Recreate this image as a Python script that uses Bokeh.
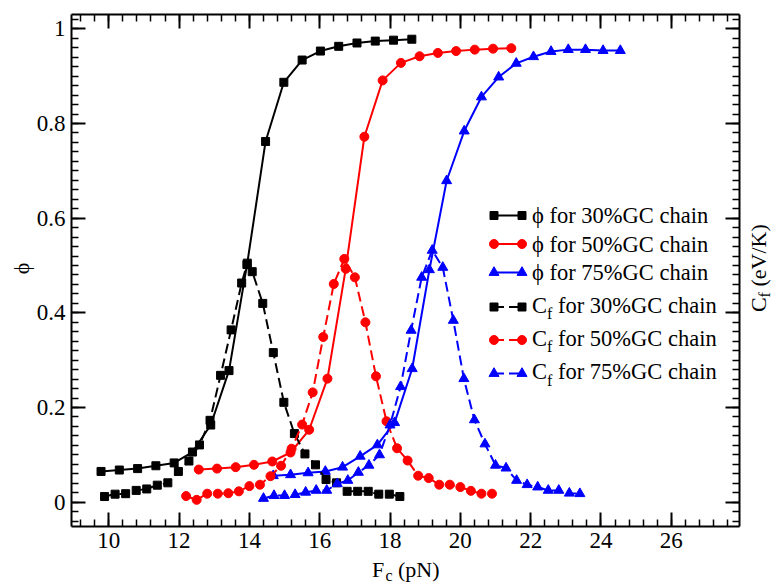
from bokeh.plotting import figure
from bokeh.models import Range1d, LinearAxis, FixedTicker, CustomJSTickFormatter, Label
from bokeh.embed import file_html
from bokeh.resources import INLINE
import math

# ---- data: order parameter phi and specific heat C_f versus force F_c ----
phi30_x = [9.78, 10.30, 10.82, 11.34, 11.86, 12.38, 12.90, 13.42, 13.94, 14.46,
           14.98, 15.50, 16.02, 16.54, 17.06, 17.58, 18.10, 18.62]
phi30_y = [0.065, 0.068, 0.071, 0.077, 0.083, 0.106, 0.163, 0.278, 0.505, 0.762,
           0.887, 0.934, 0.953, 0.963, 0.970, 0.974, 0.976, 0.978]

phi50_x = [12.56, 13.08, 13.61, 14.13, 14.65, 15.17, 15.70, 16.22, 16.74, 17.27,
           17.79, 18.31, 18.84, 19.36, 19.88, 20.41, 20.93, 21.45]
phi50_y = [0.069, 0.071, 0.074, 0.079, 0.086, 0.105, 0.153, 0.261, 0.493, 0.772,
           0.891, 0.928, 0.942, 0.949, 0.953, 0.956, 0.958, 0.959]

phi75_x = [14.68, 15.17, 15.67, 16.16, 16.65, 17.15, 17.64, 18.13, 18.63, 19.12,
           19.61, 20.11, 20.60, 21.09, 21.59, 22.08, 22.58, 23.07, 23.56, 24.06, 24.55]
phi75_y = [0.056, 0.058, 0.062, 0.065, 0.074, 0.097, 0.121, 0.168, 0.282, 0.491,
           0.679, 0.784, 0.856, 0.898, 0.927, 0.941, 0.952, 0.956, 0.956, 0.954, 0.954]

cf30_x = [9.88, 10.18, 10.48, 10.78, 11.08, 11.38, 11.68, 11.98, 12.28, 12.58,
          12.88, 13.18, 13.48, 13.78, 13.93, 14.08, 14.38, 14.68, 14.98, 15.28,
          15.58, 15.88, 16.18, 16.48, 16.78, 17.08, 17.38, 17.68, 17.98, 18.28]
cf30_y = [0.012, 0.017, 0.018, 0.025, 0.028, 0.036, 0.041, 0.065, 0.087, 0.121,
          0.173, 0.268, 0.364, 0.463, 0.502, 0.487, 0.420, 0.316, 0.211, 0.145,
          0.102, 0.079, 0.048, 0.041, 0.023, 0.023, 0.023, 0.017, 0.017, 0.012]

cf50_x = [12.20, 12.50, 12.80, 13.10, 13.40, 13.70, 14.00, 14.30, 14.60, 14.90,
          15.20, 15.50, 15.80, 16.10, 16.40, 16.70, 17.00, 17.30, 17.60, 17.90,
          18.20, 18.50, 18.80, 19.10, 19.40, 19.70, 20.00, 20.30, 20.60, 20.90]
cf50_y = [0.013, 0.005, 0.018, 0.018, 0.019, 0.023, 0.034, 0.037, 0.055, 0.077,
          0.113, 0.164, 0.232, 0.349, 0.461, 0.514, 0.475, 0.380, 0.266, 0.171,
          0.114, 0.088, 0.056, 0.051, 0.037, 0.037, 0.032, 0.024, 0.018, 0.018]

cf75_x = [14.40, 14.70, 15.00, 15.30, 15.60, 15.90, 16.20, 16.50, 16.80, 17.10,
          17.40, 17.70, 18.00, 18.30, 18.60, 18.90, 19.20, 19.50, 19.80, 20.10,
          20.40, 20.70, 21.00, 21.30, 21.60, 21.90, 22.20, 22.50, 22.80, 23.10, 23.40]
cf75_y = [0.008, 0.014, 0.014, 0.016, 0.021, 0.025, 0.025, 0.039, 0.046, 0.063,
          0.078, 0.100, 0.163, 0.244, 0.363, 0.475, 0.532, 0.496, 0.384, 0.261,
          0.174, 0.123, 0.078, 0.072, 0.046, 0.037, 0.032, 0.025, 0.025, 0.019, 0.018]

x_major_ticks = [10, 12, 14, 16, 18, 20, 22, 24, 26]
y_major_ticks = [0, 0.2, 0.4, 0.6, 0.8, 1]

gc_labels = ["30%GC chain", "50%GC chain", "75%GC chain"]

# ---- layout ----
# The plotting area spans the whole canvas; the boxed axes are pinned at
# fixed data locations so that titles and legend texts can sit around them.
FONT = "Liberation Serif"
W, H = 773, 583
FL, FR, FT, FB = 71, 739, 14, 526          # pixel edges of the boxed axes
X0, X1 = 8.94, 27.94                       # data limits of the box
Y0, Y1 = -0.0513, 1.0302


def dx(px):
    return X0 + (px - FL) * (X1 - X0) / (FR - FL)


def dy(py):
    return Y1 - (py - FT) * (Y1 - Y0) / (FB - FT)


p = figure(width=W, height=H,
           x_range=Range1d(dx(0), dx(W)), y_range=Range1d(dy(H), dy(0)),
           output_backend="svg", toolbar_location=None,
           x_axis_location=None, y_axis_location=None,
           min_border_left=0, min_border_right=0,
           min_border_top=0, min_border_bottom=0)
p.outline_line_color = None
p.background_fill_color = "white"
p.border_fill_color = "white"
p.xgrid.visible = False
p.ygrid.visible = False

x_minor = [round(9.2 + 0.4 * i, 2) for i in range(47)]
y_minor = [round(-0.04 + 0.02 * i, 2) for i in range(54)]


def make_axis(kind, labelled, loc):
    if kind == "x":
        ticker = FixedTicker(ticks=x_major_ticks, minor_ticks=x_minor)
        bounds = (X0, X1)
    else:
        ticker = FixedTicker(ticks=y_major_ticks, minor_ticks=y_minor)
        bounds = (Y0, Y1)
    ax = LinearAxis(ticker=ticker, fixed_location=loc, bounds=bounds)
    ax.axis_line_width = 2
    ax.axis_line_color = "black"
    ax.major_tick_in = 14
    ax.major_tick_out = 0
    ax.major_tick_line_width = 2
    ax.minor_tick_in = 7
    ax.minor_tick_out = 0
    ax.minor_tick_line_width = 1.5
    if labelled:
        ax.formatter = CustomJSTickFormatter(code="return String(tick);")
        ax.major_label_text_font = FONT
        ax.major_label_text_font_size = "23px"
        ax.major_label_text_color = "black"
        ax.major_label_standoff = 6
    else:
        ax.formatter = CustomJSTickFormatter(code="return '';")
        ax.major_label_text_font_size = "0px"
        ax.major_label_standoff = 0
    return ax


p.add_layout(make_axis("x", True, Y0), "below")
p.add_layout(make_axis("x", False, Y1), "above")
p.add_layout(make_axis("y", True, X0), "left")
p.add_layout(make_axis("y", False, X1), "right")

# ---- curves ----
series = [
    (phi30_x, phi30_y, "black", "square", 8, "solid"),
    (phi50_x, phi50_y, "red", "circle", 9, "solid"),
    (phi75_x, phi75_y, "blue", "triangle", 10, "solid"),
    (cf30_x, cf30_y, "black", "square", 8, "10 5"),
    (cf50_x, cf50_y, "red", "circle", 9, "10 5"),
    (cf75_x, cf75_y, "blue", "triangle", 10, "10 5"),
]
for xs, ys, col, mk, sz, dash in series:
    p.line(xs, ys, line_color=col, line_width=2, line_dash=dash)
    p.scatter(xs, ys, marker=mk, size=sz, fill_color=col, line_color=col)


def text(px, py, s, size="22px", angle=0.0, align="left"):
    # (px, py) is the vertical middle of the line of text, at its start
    p.add_layout(Label(x=dx(px), y=dy(py), text=s,
                       text_font=FONT, text_font_size=size, text_color="black",
                       text_align=align, text_baseline="middle", angle=angle))


# ---- legend (sample line with a symbol at each end) ----
row_y = [215, 243.5, 272, 306.5, 339.5, 373]
LEG = "22.5px"
for i, (xs, ys, col, mk, sz, dash) in enumerate(series):
    yy = dy(row_y[i])
    sx = [dx(493.5), dx(521.5)]
    p.line(sx, [yy, yy], line_color=col, line_width=2, line_dash=dash)
    p.scatter(sx, [yy, yy], marker=mk, size=sz, fill_color=col, line_color=col)
    if i < 3:
        text(531.5, row_y[i], "\u03d5 for " + gc_labels[i], size=LEG)
    else:
        text(531.5, row_y[i] - 2, "C", size=LEG)
        text(546.5, row_y[i] + 6.5, "f", size="16px")
        text(557.5, row_y[i] - 2, "for " + gc_labels[i - 3], size=LEG)

# ---- axis titles ----
text(371.5, 568.5, "F")
text(385, 574.5, "c", size="16px")
text(397.5, 568.5, "(pN)")

text(21, 268, "\u03d5", angle=math.pi / 2, align="center")

text(757.5, 311.5, "C", angle=math.pi / 2)
text(764, 297, "f", size="16px", angle=math.pi / 2)
text(757.5, 286, "(eV/K)", angle=math.pi / 2)

open("out.html", "w").write(file_html(p, INLINE))
